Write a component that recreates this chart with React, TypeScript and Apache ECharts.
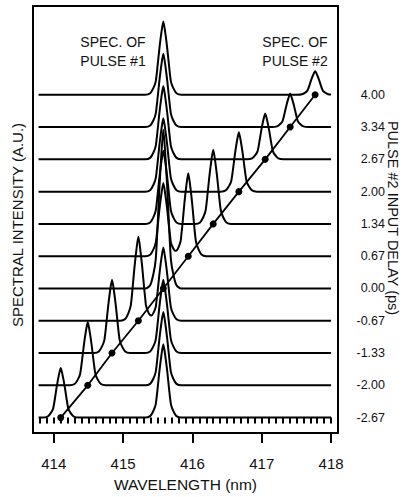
import React, { useEffect, useRef } from "react";
import * as echarts from "echarts";

// ---- data ----
const DELAY_LABELS = ["-2.67", "-2.00", "-1.33", "-0.67", "0.00", "0.67", "1.34", "2.00", "2.67", "3.34", "4.00"];
const PULSE1_CENTER_NM = 415.58;
const PULSE1_HEIGHT = 2.27; // in units of trace spacing
const PULSE2_CENTERS_NM = [414.1, 414.49, 414.84, 415.22, 415.58, 415.94, 416.3, 416.67, 417.05, 417.41, 417.77];
const PULSE2_HEIGHTS = [1.54, 1.96, 2.27, 2.6, 2.65, 2.57, 2.3, 1.84, 1.42, 1.03, 0.73];
const BASELINE_START_NM = 413.78;
const BASELINE_END_NM = 418.0;
// measured line shape of one peak (distance from centre in nm -> fraction of peak height)
const PEAK_OFFSETS_NM = [0, 0.029, 0.058, 0.082, 0.11, 0.144, 0.19, 0.26];
const PEAK_LEVELS = [1, 0.84, 0.62, 0.4, 0.18, 0.09, 0.02, 0];
const MAJOR_TICKS = [414, 415, 416, 417, 418];
const TRACE_INDEX = DELAY_LABELS.map((_, i) => i);

const X_MIN = 413.7;
const X_MAX = 418.1;
// minor tick positions every 0.1 nm across the frame
const MINOR_TICKS: number[] = [];
for (let k = 0; k <= Math.round((X_MAX - X_MIN) * 10); k++) {
  MINOR_TICKS.push(Math.round((X_MIN + k * 0.1) * 10) / 10);
}

const FONT = "'Liberation Sans', Arial, Helvetica, sans-serif";
const INK = "#111";

function profile(d: number): number {
  const a = Math.abs(d);
  for (let k = 0; k < PEAK_OFFSETS_NM.length - 1; k++) {
    const x0 = PEAK_OFFSETS_NM[k];
    const x1 = PEAK_OFFSETS_NM[k + 1];
    if (a >= x0 && a <= x1) {
      const t = (a - x0) / (x1 - x0);
      return PEAK_LEVELS[k] + t * (PEAK_LEVELS[k + 1] - PEAK_LEVELS[k]);
    }
  }
  return 0;
}

function traceData(i: number): number[][] {
  const peaks = [
    { c: PULSE1_CENTER_NM, h: PULSE1_HEIGHT },
    { c: PULSE2_CENTERS_NM[i], h: PULSE2_HEIGHTS[i] },
  ];
  const xs: number[] = [BASELINE_START_NM, BASELINE_END_NM];
  peaks.forEach((p) => {
    PEAK_OFFSETS_NM.forEach((o) => {
      xs.push(p.c - o, p.c + o);
    });
  });
  const uniq = Array.from(new Set(xs.map((x) => Math.round(x * 10000) / 10000)))
    .filter((x) => x >= BASELINE_START_NM && x <= BASELINE_END_NM)
    .sort((a, b) => a - b);
  return uniq.map((x) => [x, i + peaks.reduce((s, p) => s + p.h * profile(x - p.c), 0)]);
}

export default function App() {
  const ref = useRef<HTMLDivElement>(null);
  useEffect(() => {
    if (!ref.current) return;
    const chart = echarts.init(ref.current, undefined, { renderer: "svg" });
    const spectra = TRACE_INDEX.map((i) => ({
      type: "line",
      name: "delay " + DELAY_LABELS[i],
      xAxisIndex: 0,
      yAxisIndex: 0,
      data: traceData(i),
      showSymbol: false,
      smooth: 0.25,
      lineStyle: { color: "#000", width: 2 },
      z: 3,
      silent: true,
    }));
    const textStyle = (extra: any) => ({
      fontFamily: FONT,
      fill: INK,
      align: "center",
      verticalAlign: "middle",
      textAlign: "center",
      textVerticalAlign: "middle",
      ...extra,
    });
    chart.setOption({
      animation: false,
      grid: {
        left: 33,
        right: 70,
        top: 6,
        bottom: 53,
        show: true,
        borderColor: "#000",
        borderWidth: 2,
        backgroundColor: "transparent",
      },
      xAxis: [
        {
          type: "value",
          min: X_MIN,
          max: X_MAX,
          position: "bottom",
          axisLine: { show: false },
          axisTick: { show: true, interval: 0, customValues: MINOR_TICKS, length: 6, lineStyle: { color: "#000", width: 2 } },
          axisLabel: { show: false },
          splitLine: { show: false },
        },
        {
          type: "value",
          min: X_MIN,
          max: X_MAX,
          position: "bottom",
          axisLine: { show: false },
          axisTick: { show: true, customValues: MAJOR_TICKS, length: 10, lineStyle: { color: "#000", width: 2 } },
          axisLabel: {
            customValues: MAJOR_TICKS,
            formatter: (v: number) => String(Math.round(v)),
            margin: 23,
            fontSize: 15,
            fontFamily: FONT,
            color: INK,
          },
          splitLine: { show: false },
          name: "WAVELENGTH (nm)",
          nameLocation: "middle",
          nameGap: 38,
          nameTextStyle: { fontSize: 15.5, fontFamily: FONT, color: INK },
        },
      ],
      yAxis: [
        {
          type: "value",
          position: "right",
          min: -0.48,
          max: 12.75,
          axisLine: { show: false },
          axisTick: { show: false },
          splitLine: { show: false },
          axisLabel: {
            customValues: TRACE_INDEX,
            formatter: (v: number) => DELAY_LABELS[Math.round(v)] ?? "",
            align: "right",
            margin: 47,
            fontSize: 12.5,
            fontFamily: FONT,
            color: INK,
          },
        },
      ],
      graphic: [
        {
          type: "text",
          x: 17,
          y: 225,
          rotation: Math.PI / 2,
          style: textStyle({ text: "SPECTRAL INTENSITY (A.U.)", fontSize: 15 }),
        },
        {
          type: "text",
          x: 393,
          y: 218,
          rotation: -Math.PI / 2,
          style: textStyle({ text: "PULSE #2 INPUT DELAY (ps)", fontSize: 14.5 }),
        },
        {
          type: "text",
          x: 113,
          y: 51,
          style: textStyle({ text: "SPEC. OF\nPULSE #1", fontSize: 14, lineHeight: 19 }),
        },
        {
          type: "text",
          x: 295,
          y: 51,
          style: textStyle({ text: "SPEC. OF\nPULSE #2", fontSize: 14, lineHeight: 19 }),
        },
      ],
      series: [
        {
          type: "line",
          name: "pulse 2 peak",
          xAxisIndex: 0,
          yAxisIndex: 0,
          data: TRACE_INDEX.map((i) => [PULSE2_CENTERS_NM[i], i]),
          symbol: "circle",
          symbolSize: 7,
          showSymbol: true,
          itemStyle: { color: "#000" },
          lineStyle: { color: "#000", width: 1.8 },
          z: 2,
          silent: true,
        },
        ...spectra,
      ],
    });
    return () => chart.dispose();
  }, []);
  return (
    <div
      ref={ref}
      style={{ position: "fixed", left: 0, top: 0, width: 408, height: 497, background: "#fff" }}
    />
  );
}
